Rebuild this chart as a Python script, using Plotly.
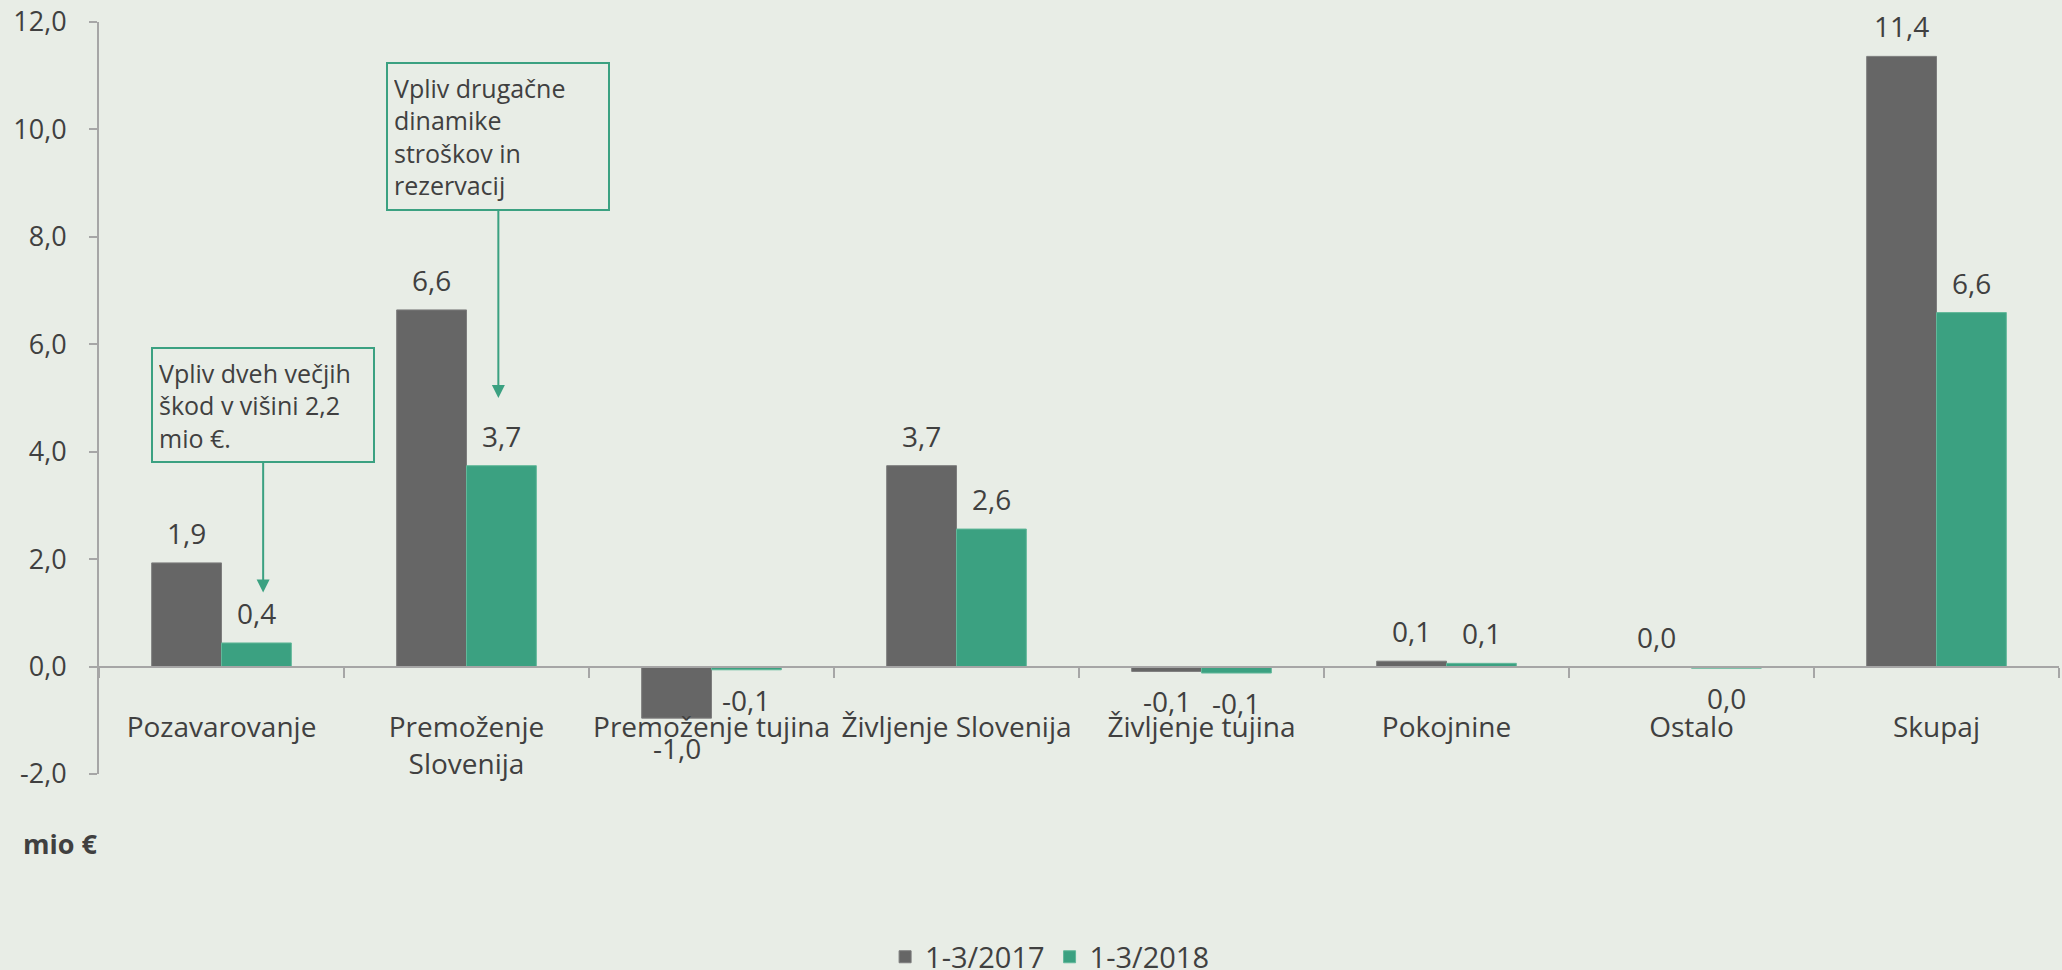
import plotly.graph_objects as go

categories = ["Pozavarovanje", "Premoženje<br>Slovenija", "Premoženje tujina",
              "Življenje Slovenija", "Življenje tujina", "Pokojnine", "Ostalo", "Skupaj"]
series_names = ["1-3/2017", "1-3/2018"]
values_2017 = [1.93, 6.64, -0.96, 3.74, -0.09, 0.10, 0.0, 11.36]
values_2018 = [0.44, 3.74, -0.06, 2.56, -0.12, 0.06, -0.03, 6.59]
y_ticks = [-2, 0, 2, 4, 6, 8, 10, 12]
colors = ["#666666", "#3BA181"]

TEXT = "#404040"
BG = "#E8EDE6"
FONT = "Open Sans"
BARGAP = 0.43
LABEL_SHIFT = 30


def fmt(v):
    s = f"{v:.1f}".replace(".", ",")
    return "0,0" if s == "-0,0" else s


fig = go.Figure()
for name, vals, col, lc in zip(series_names, [values_2017, values_2018], colors,
                               ["#7d7d7d", "#62b89a"]):
    fig.add_trace(go.Bar(
        x=categories, y=vals, name=name,
        marker=dict(color=col, line=dict(color=lc, width=1)),
        textposition="none", hoverinfo="x+y",
    ))

# data labels, placed at each bar's centre (offset within the group) and value
bar_w = (1 - BARGAP) / len(series_names)
label_annots = []
for s_idx, vals in enumerate([values_2017, values_2018]):
    off = -(1 - BARGAP) / 2 + bar_w * (s_idx + 0.5)
    for c_idx, v in enumerate(vals):
        neg = v < 0
        label_annots.append(dict(
            x=c_idx + off, y=v, xref="x", yref="y", text=fmt(v), showarrow=False,
            yanchor="middle", xanchor="center",
            yshift=-LABEL_SHIFT if neg else LABEL_SHIFT,
            font=dict(size=28, color=TEXT, family=FONT)))

annot_font = dict(size=25, color=TEXT, family=FONT)
box_col = "#3BA181"

fig.update_layout(
    width=2062, height=970,
    paper_bgcolor=BG, plot_bgcolor=BG,
    margin=dict(l=99, r=3, t=22, b=196, autoexpand=False),
    barmode="group", bargap=BARGAP, bargroupgap=0,
    font=dict(family=FONT, size=28, color=TEXT),
    showlegend=True,
    legend=dict(orientation="h", x=0.485, xanchor="center",
                y=0.0135, yref="container", yanchor="middle",
                font=dict(size=29, color=TEXT, family=FONT), bgcolor="rgba(0,0,0,0)",
                itemwidth=30, traceorder="normal"),
    yaxis=dict(range=[-2, 12], tickvals=y_ticks, ticktext=[fmt(v) for v in y_ticks],
               showline=True, linecolor="#A6A6A6", linewidth=2,
               ticks="outside", ticklen=8, tickcolor="#A6A6A6", tickwidth=2,
               ticklabelstandoff=17, showgrid=False, zeroline=False, automargin=False,
               tickfont=dict(size=27, color=TEXT, family=FONT)),
    xaxis=dict(anchor="free", position=2 / 14, showline=True, linecolor="#A6A6A6",
               linewidth=2, ticks="outside", tickson="boundaries", ticklen=10,
               tickcolor="#A6A6A6", tickwidth=2, showgrid=False, tickangle=0,
               ticklabelstandoff=36, automargin=False,
               tickfont=dict(size=28, color=TEXT, family=FONT)),
    annotations=label_annots + [
        dict(x=0.17, y=1.38, xref="x", yref="y",
             text="Vpliv dveh večjih<br>škod v višini 2,2<br>mio €.",
             showarrow=True, ax=0, ay=-187, axref="pixel", ayref="pixel",
             arrowhead=2, arrowsize=1.3, arrowwidth=2, arrowcolor=box_col,
             bordercolor=box_col, borderwidth=2, borderpad=6, bgcolor=BG,
             align="left", width=208, height=100, font=annot_font),
        dict(x=1.13, y=5.0, xref="x", yref="y",
             text="Vpliv drugačne<br>dinamike<br>stroškov in<br>rezervacij",
             showarrow=True, ax=0, ay=-262, axref="pixel", ayref="pixel",
             arrowhead=2, arrowsize=1.3, arrowwidth=2, arrowcolor=box_col,
             bordercolor=box_col, borderwidth=2, borderpad=6, bgcolor=BG,
             align="left", width=208, height=133, font=annot_font),
        dict(x=-0.0398, y=-0.093, xref="paper", yref="paper", xanchor="left",
             yanchor="middle", text="<b>mio €</b>", showarrow=False,
             font=dict(size=27, color=TEXT, family=FONT)),
    ],
)

fig.write_html("out.html", config={"displayModeBar": False},
               post_script="document.body.style.margin='0';document.body.style.overflow='hidden';")
